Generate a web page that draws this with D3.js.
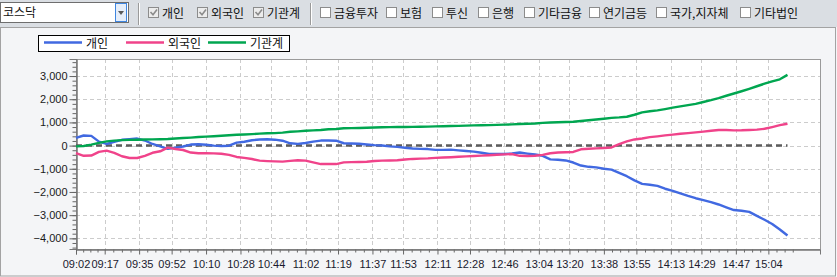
<!DOCTYPE html>
<html>
<head>
<meta charset="utf-8">
<script src="https://cdn.jsdelivr.net/npm/d3@7/dist/d3.min.js"></script>
<style>
  body { margin: 0; background: #f4f5f7; }
  svg text { font-family: "Liberation Sans", Arial, sans-serif; }
  .kr { font-family: "Noto Sans CJK KR", "Noto Sans", sans-serif; font-size: 12px; fill: #111; }
</style>
</head>
<body>
<div id="chart"></div>
<script>
// combo + checkbox labels
var market = "코스닥";
var checkLabels = ["개인", "외국인", "기관계", "금융투자", "보험", "투신", "은행", "기타금융", "연기금등", "국가,지자체", "기타법인"];
var checkedOn = [true, true, true, false, false, false, false, false, false, false, false];

// series (억원), one point every 4 minutes from 09:02
var startTime = "09:02", endTime = "15:31", stepMinutes = 4;
var seriesNames = ["개인", "외국인", "기관계"];
var individual = [330, 435, 420, 170, 70, 160, 250, 280, 304, 220, 70, -30, -140, -85, -40, 45, 60, 35, 0, -15,
  -5, 130, 165, 230, 260, 275, 255, 210, 100, 75, 110, 170, 217, 217, 210, 101, 90, 78, 50, 20,
  3, -35, -55, -90, -125, -140, -150, -185, -185, -176, -205, -235, -260, -310, -362, -362, -362, -340, -300, -345,
  -385, -440, -594, -610, -640, -730, -860, -915, -940, -1000, -1035, -1180, -1320, -1500, -1650, -1690, -1740, -1860, -1950, -2060,
  -2170, -2270, -2350, -2440, -2540, -2660, -2780, -2810, -2860, -3030, -3200, -3380, -3620, -3880];
var foreign = [-320, -440, -430, -270, -217, -310, -460, -536, -536, -440, -310, -246, -90, -145, -190, -300, -333, -333, -335, -350,
  -400, -490, -530, -580, -650, -668, -681, -690, -660, -630, -650, -725, -797, -797, -797, -725, -715, -705, -696, -665,
  -648, -640, -630, -600, -575, -560, -550, -530, -515, -500, -480, -465, -450, -433, -415, -395, -380, -365, -440, -449,
  -440, -400, -330, -295, -285, -275, -159, -135, -120, -105, -80, 60, 185, 265, 305, 365, 400, 440, 475, 510,
  540, 570, 605, 640, 675, 670, 655, 660, 675, 690, 725, 800, 880, 940];
var institution = [-35, -15, 40, 120, 180, 215, 235, 245, 255, 265, 270, 275, 285, 305, 325, 345, 370, 385, 405, 425,
  445, 465, 480, 495, 515, 530, 540, 560, 595, 615, 640, 655, 675, 705, 715, 750, 755, 760, 770, 780,
  790, 795, 800, 805, 808, 812, 820, 828, 835, 842, 850, 860, 870, 878, 885, 895, 905, 915, 930, 942,
  955, 980, 995, 1010, 1020, 1029, 1060, 1095, 1125, 1160, 1195, 1215, 1245, 1330, 1435, 1480, 1520, 1575, 1635, 1690,
  1745, 1800, 1880, 1960, 2050, 2150, 2246, 2345, 2450, 2560, 2670, 2770, 2860, 3050];
var seriesColors = ["#4169e1", "#f0438a", "#00a650"];

var xTickLabels = ["09:02", "09:17", "09:35", "09:52", "10:10", "10:28", "10:44", "11:02", "11:19", "11:37", "11:53",
  "12:11", "12:28", "12:46", "13:04", "13:20", "13:38", "13:55", "14:13", "14:29", "14:47", "15:04"];
var yTicks = [-4000, -3000, -2000, -1000, 0, 1000, 2000, 3000];

var width = 837, height = 277;
var plot = {left: 76, right: 820, top: 59, bottom: 249};

function toMin(s) { var p = s.split(":"); return +p[0] * 60 + +p[1]; }
var t0 = toMin(startTime);

var svg = d3.select("#chart").append("svg")
  .attr("width", width)
  .attr("height", height);

// ---- toolbar ----
svg.append("rect").attr("x", 0).attr("y", 0).attr("width", width).attr("height", 27).attr("fill", "#dadee3");

svg.append("rect").attr("x", 0.5).attr("y", 2.5).attr("width", 128).attr("height", 20)
  .attr("fill", "#fff").attr("stroke", "#6e6e6e");
svg.append("text").attr("class", "kr").attr("x", 3).attr("y", 17).text(market);
svg.append("rect").attr("x", 115.5).attr("y", 3.5).attr("width", 11).attr("height", 18)
  .attr("fill", "#e6eef9").attr("stroke", "#3f86e0");
svg.append("path").attr("d", "M118,11 L124,11 L121,15 Z").attr("fill", "#5a5a5a");

[139, 311].forEach(function(x) {
  svg.append("line").attr("x1", x - 0.5).attr("x2", x - 0.5).attr("y1", 3).attr("y2", 25).attr("stroke", "#9a9a9a");
  svg.append("line").attr("x1", x + 0.5).attr("x2", x + 0.5).attr("y1", 3).attr("y2", 25).attr("stroke", "#fff");
});

var checkX = [148, 197, 253, 320, 386, 432, 478, 524, 589, 656, 740];
var checks = svg.selectAll(".chk")
  .data(checkLabels)
  .enter().append("g")
  .attr("class", "chk")
  .attr("transform", function(d, i) { return "translate(" + checkX[i] + ",0)"; });
checks.append("rect")
  .attr("x", 0.5).attr("y", 7.5).attr("width", 10).attr("height", 10)
  .attr("fill", function(d, i) { return checkedOn[i] ? "#ececec" : "#fff"; })
  .attr("stroke", "#8c8c8c");
checks.filter(function(d, i) { return checkedOn[i]; })
  .append("path")
  .attr("d", "M2.5,12 L5,14.8 L9,9.5")
  .attr("fill", "none").attr("stroke", "#8c8c8c").attr("stroke-width", 1.6);
checks.append("text").attr("class", "kr").attr("x", 14).attr("y", 18).text(function(d) { return d; });

// ---- chart panel ----
svg.append("rect").attr("x", 0.5).attr("y", 27.5).attr("width", 835).attr("height", 248.5)
  .attr("fill", "#f4f5f7").attr("stroke", "#a3a3a3");

var x = d3.scaleLinear().domain([t0, toMin(endTime)]).range([plot.left, plot.right]);
var y = d3.scaleLinear().domain([-4460, 3735]).range([plot.bottom, plot.top]);

svg.append("rect").attr("x", plot.left).attr("y", plot.top)
  .attr("width", plot.right - plot.left).attr("height", plot.bottom - plot.top)
  .attr("fill", "#fff");

var tickTimes = xTickLabels.map(toMin);
var minorTimes = [];
tickTimes.forEach(function(t, i) {
  var next = i < tickTimes.length - 1 ? tickTimes[i + 1] : t + (t - tickTimes[i - 1]);
  for (var k = 1; k < 4; k++) minorTimes.push(t + (next - t) * k / 4);
});

// grid
svg.append("g").selectAll("line").data(yTicks).enter().append("line")
  .attr("x1", plot.left).attr("x2", plot.right)
  .attr("y1", function(d) { return Math.round(y(d)) + 0.5; })
  .attr("y2", function(d) { return Math.round(y(d)) + 0.5; })
  .attr("stroke", "#cccccc").attr("stroke-dasharray", "4,3");
svg.append("g").selectAll("line").data(tickTimes.slice(1)).enter().append("line")
  .attr("y1", plot.top).attr("y2", plot.bottom)
  .attr("x1", function(d) { return Math.round(x(d)) + 0.5; })
  .attr("x2", function(d) { return Math.round(x(d)) + 0.5; })
  .attr("stroke", "#cccccc").attr("stroke-dasharray", "4,3");

// frame
svg.append("rect").attr("x", plot.left + 0.5).attr("y", plot.top + 0.5)
  .attr("width", plot.right - plot.left).attr("height", plot.bottom - plot.top)
  .attr("fill", "none").attr("stroke", "#9a9a9a");

// y axis
var yAxis = d3.axisLeft(y).tickValues(yTicks).tickSize(7).tickPadding(2)
  .tickFormat(d3.format(","));
var yMinor = d3.axisLeft(y).tickValues(d3.range(-4400, 3700, 200)).tickSize(4).tickFormat("");
var gy = svg.append("g").attr("transform", "translate(" + (plot.left + 0.5) + ",0)").call(yMinor);
var gy2 = svg.append("g").attr("transform", "translate(" + (plot.left + 0.5) + ",0)").call(yAxis);
[gy, gy2].forEach(function(g) {
  g.select(".domain").attr("stroke", "#777");
  g.selectAll(".tick line").attr("stroke", "#666");
});
gy2.selectAll("text").attr("font-size", 11).attr("fill", "#1a1a1a")
  .attr("font-family", "'Liberation Sans', Arial, sans-serif");

// x axis
var xAxis = d3.axisBottom(x).tickValues(tickTimes).tickSize(5).tickPadding(6)
  .tickFormat(function(d, i) { return xTickLabels[i]; });
var xMinor = d3.axisBottom(x).tickValues(minorTimes).tickSize(3).tickFormat("");
var gx = svg.append("g").attr("transform", "translate(0," + (plot.bottom + 0.5) + ")").call(xMinor);
var gx2 = svg.append("g").attr("transform", "translate(0," + (plot.bottom + 0.5) + ")").call(xAxis);
[gx, gx2].forEach(function(g) {
  g.select(".domain").attr("stroke", "#777");
  g.selectAll(".tick line").attr("stroke", "#666");
});
gx2.selectAll("text").attr("font-size", 11).attr("fill", "#1a1a2e")
  .attr("font-family", "'Liberation Sans', Arial, sans-serif");

// zero baseline
var tEnd = t0 + (individual.length - 1) * stepMinutes;
svg.append("line")
  .attr("x1", x(t0)).attr("x2", x(tEnd))
  .attr("y1", y(0)).attr("y2", y(0))
  .attr("stroke", "#5c5c5c").attr("stroke-width", 2.5).attr("stroke-dasharray", "6,4");

// lines
var line = d3.line()
  .x(function(d, i) { return x(t0 + i * stepMinutes); })
  .y(function(d) { return y(d); });

[individual, foreign, institution].forEach(function(s, i) {
  svg.append("path")
    .datum(s)
    .attr("d", line)
    .attr("fill", "none")
    .attr("stroke", seriesColors[i])
    .attr("stroke-width", 2.4)
    .attr("stroke-linejoin", "round");
});

// legend
var legend = svg.append("g");
legend.append("rect").attr("x", 38.5).attr("y", 35.5).attr("width", 251).attr("height", 16)
  .attr("fill", "#fff").attr("stroke", "#000");
var legX = [44, 126, 208];
seriesNames.forEach(function(n, i) {
  legend.append("line").attr("x1", legX[i]).attr("x2", legX[i] + 38)
    .attr("y1", 42.5).attr("y2", 42.5)
    .attr("stroke", seriesColors[i]).attr("stroke-width", 2.5);
  legend.append("text").attr("class", "kr").attr("x", legX[i] + 42).attr("y", 48).text(n);
});
</script>
</body>
</html>
